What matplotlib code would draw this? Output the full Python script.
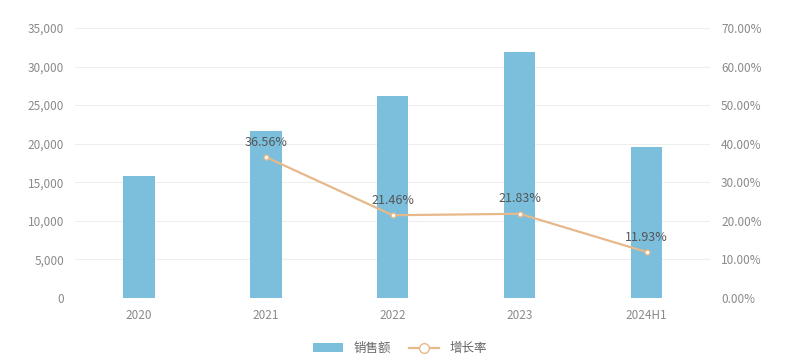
import matplotlib
matplotlib.use('Agg')
import matplotlib.pyplot as plt
from matplotlib.ticker import FuncFormatter

plt.rcParams['font.family'] = ['Noto Sans CJK SC', 'DejaVu Sans']

# 数据
anios = ['2020', '2021', '2022', '2023', '2024H1']
ventas = [15800, 21600, 26200, 31900, 19600]
crecimiento = [None, 36.56, 21.46, 21.83, 11.93]

color_barra = '#7BBFDC'
color_linea = '#E6B88A'
color_tick = '#8a8a8a'

fig = plt.figure(figsize=(8, 3.63), dpi=100)
ax = fig.add_axes([0.094, 0.179, 0.7935, 0.744])
x = list(range(len(anios)))

barras = ax.bar(x, ventas, width=0.25, color=color_barra, label='销售额', zorder=2)
ax.set_xlim(-0.5, len(anios) - 0.5)
ax.set_ylim(0, 35000)
ax.set_yticks(range(0, 35001, 5000))
ax.yaxis.set_major_formatter(FuncFormatter(lambda v, p: f'{int(v):,}'))
ax.set_xticks(x)
ax.set_xticklabels(anios)
ax.grid(axis='y', color='#eeeeee', linewidth=0.8, zorder=0)
for s in ax.spines.values():
    s.set_visible(False)
ax.tick_params(length=0, colors=color_tick, labelsize=8.5, pad=8)

ax2 = ax.twinx()
xs = [i for i, v in zip(x, crecimiento) if v is not None]
ys = [v for v in crecimiento if v is not None]
linea, = ax2.plot(xs, ys, color=color_linea, linewidth=1.6, marker='o', markersize=3.5,
                  markerfacecolor='white', markeredgecolor=color_linea, label='增长率', zorder=3)
ax2.set_ylim(0, 70)
ax2.set_yticks(range(0, 71, 10))
ax2.yaxis.set_major_formatter(FuncFormatter(lambda v, p: f'{v:.2f}%'))
for s in ax2.spines.values():
    s.set_visible(False)
ax2.tick_params(length=0, colors=color_tick, labelsize=8.5, pad=8)
for xi, yi in zip(xs, ys):
    ax2.annotate(f'{yi:.2f}%', (xi, yi), xytext=(0, 6), textcoords='offset points',
                 ha='center', va='bottom', fontsize=9, color='#555555')

leg = fig.legend([barras, linea], ['销售额', '增长率'], loc='center', bbox_to_anchor=(0.5, 0.04),
                 ncol=2, frameon=False, fontsize=9, labelcolor='#666666',
                 handlelength=2.4, columnspacing=1.5)
leg.legend_handles[1].set_markersize(7)

fig.savefig('out.png', dpi=100)
